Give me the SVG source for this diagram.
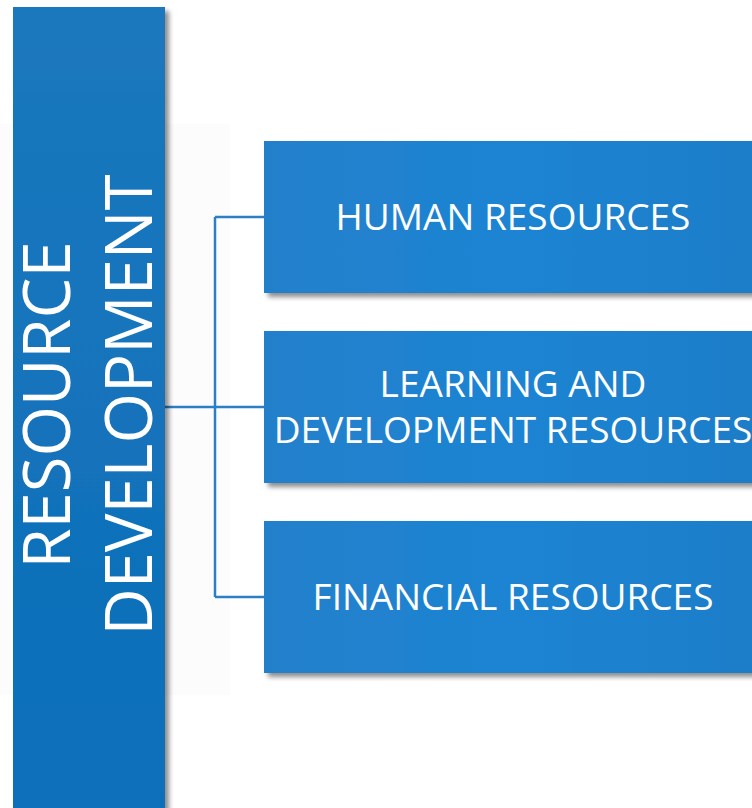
<svg xmlns="http://www.w3.org/2000/svg" width="752" height="808" viewBox="0 0 752 808">
  <defs>
    <linearGradient id="barFill" x1="0" y1="0" x2="0" y2="1">
      <stop offset="0" stop-color="#1b78bd"/>
      <stop offset="1" stop-color="#0b6eb9"/>
    </linearGradient>
    <linearGradient id="boxFill" x1="0" y1="0" x2="1" y2="0">
      <stop offset="0" stop-color="#2380cb"/>
      <stop offset="0.5" stop-color="#1d84d3"/>
      <stop offset="1" stop-color="#1c7dc8"/>
    </linearGradient>
    <filter id="shadow" x="-10%" y="-10%" width="130%" height="130%">
      <feGaussianBlur in="SourceAlpha" stdDeviation="2.5"/>
      <feOffset dx="4" dy="4" result="b"/>
      <feComponentTransfer><feFuncA type="linear" slope="0.45"/></feComponentTransfer>
      <feMerge><feMergeNode/><feMergeNode in="SourceGraphic"/></feMerge>
    </filter>
  </defs>
  <style>
    .box { fill: url(#boxFill); filter: url(#shadow); }
    .lbl { font-family: "Open Sans", "Noto Sans", sans-serif; fill: #ffffff; text-anchor: middle; }
    .item { font-size: 37px; }
    .title { font-size: 65px; }
    .wire { fill: none; stroke: #2a7fc6; stroke-width: 2.5; }
  </style>
  <rect width="752" height="808" fill="#ffffff"/>
  <rect x="0" y="124" width="230" height="571" fill="#fcfcfc"/>

  <g id="connectors">
    <path class="wire" d="M165,407 H215 M215,217 V597 M215,217 H264 M215,407 H264 M215,597 H264"/>
  </g>

  <g id="resource-development">
    <rect x="13" y="7" width="152" height="820" fill="url(#barFill)" filter="url(#shadow)"/>
    <text class="lbl title" transform="translate(70,405) rotate(-90)">RESOURCE</text>
    <text class="lbl title" transform="translate(152,405) rotate(-90)">DEVELOPMENT</text>
  </g>

  <g id="human-resources">
    <rect class="box" x="264" y="141" width="500" height="152"/>
    <text class="lbl item" x="513" y="230">HUMAN RESOURCES</text>
  </g>

  <g id="learning-development-resources">
    <rect class="box" x="264" y="331" width="500" height="152"/>
    <text class="lbl item" x="513" y="397">LEARNING AND</text>
    <text class="lbl item" x="513" y="443">DEVELOPMENT RESOURCES</text>
  </g>

  <g id="financial-resources">
    <rect class="box" x="264" y="521" width="500" height="152"/>
    <text class="lbl item" x="513" y="610">FINANCIAL RESOURCES</text>
  </g>
</svg>
